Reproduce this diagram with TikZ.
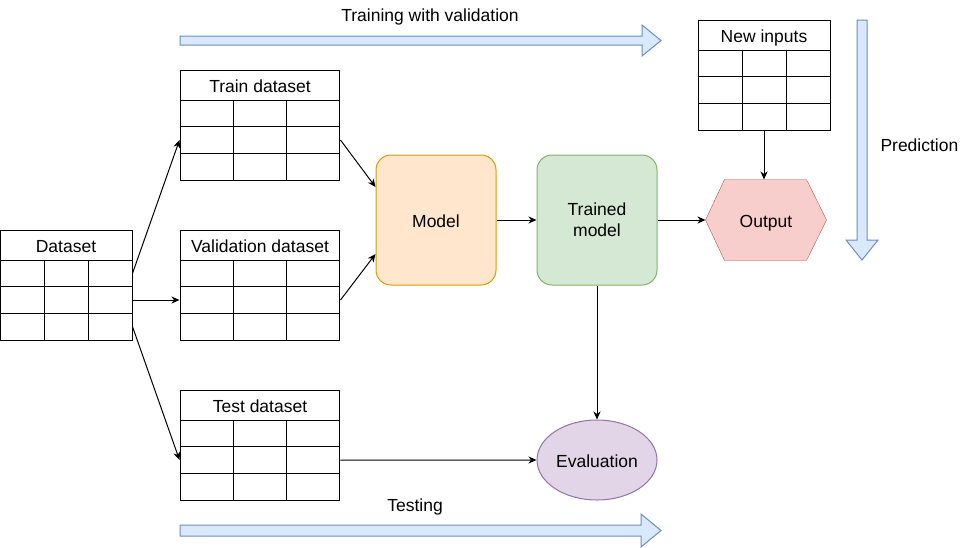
\documentclass[tikz,border=0pt]{standalone}
\usepackage{fontspec}
\setmainfont{Liberation Sans}
\usepackage{tikz}
\usetikzlibrary{shapes.geometric,arrows.meta,backgrounds,positioning}

\definecolor{arrowfill}{HTML}{DAE8FC}
\definecolor{arrowline}{HTML}{6C8EBF}
\definecolor{modelfill}{HTML}{FFE6CC}
\definecolor{modelline}{HTML}{D79B00}
\definecolor{trainfill}{HTML}{D5E8D4}
\definecolor{trainline}{HTML}{82B366}
\definecolor{outfill}{HTML}{F8CECC}
\definecolor{outline}{HTML}{B85450}
\definecolor{evalfill}{HTML}{E1D5E7}
\definecolor{evalline}{HTML}{9673A6}

\begin{document}
\begin{tikzpicture}[x=1pt, y=-1pt, line width=1pt,
    font=\fontsize{17.5}{21}\selectfont,
    every node/.style={text height=15.5pt, text depth=0pt},
    thead/.style={rectangle,draw,minimum height=30pt,inner sep=0pt},
    tcell/.style={rectangle,draw,minimum height=26.67pt,inner sep=0pt},
    block/.style={rectangle,rounded corners=15pt,minimum width=120pt,minimum height=130pt,inner sep=0pt,align=center},
    conn/.style={-{Stealth[length=8pt,width=7pt,inset=2.5pt]}},
    bigarrow/.style={fill=arrowfill,draw=arrowline},
    lbl/.style={inner sep=0pt}]
    \useasboundingbox (0,0) rectangle (961,547);

    % tables
    \foreach \n/\x/\y/\w/\t in {ds/0/230/44/Dataset,tr/180/70/53.33/Train dataset,va/180/230/53.33/Validation dataset,te/180/390/53.33/Test dataset,ni/698/20/44/New inputs}
       {\node [thead, minimum width={3*\w*1pt}] (\n) at ({\x+1.5*\w},{\y+15}) {\t};
        \foreach \r in {1,2,3}
            \foreach \c in {1,2,3}
                \node [tcell, minimum width={\w*1pt}] (\n-\r-\c) at ({\x+(\c-0.5)*\w},{\y+30+(\r-0.5)*26.67}) {};}

    \node [block, fill=modelfill, draw=modelline] (model) at (436,220) {Model};
    \node [block, fill=trainfill, draw=trainline, text height={}, text depth={}] (trained) at (597,220) {Trained\\model};
    \node [rectangle, minimum width=120pt, minimum height=80pt, inner sep=0pt] (out) at (766,220) {Output};
    \begin{scope}[on background layer]
        \draw [fill=outfill, draw=outline] (out.west) -- ([xshift=19pt]out.north west) -- ([xshift=-20pt]out.north east)
            -- (out.east) -- ([xshift=-20pt]out.south east) -- ([xshift=19pt]out.south west) -- cycle;
    \end{scope}
    \node [ellipse, fill=evalfill, draw=evalline, minimum width=120pt, minimum height=80pt, inner sep=0pt] (eval) at (597,460) {Evaluation};

    % phases
    \draw [bigarrow] (180,36) -- (642,36) -- (642,25) -- (661,40.5) -- (642,56) -- (642,45) -- (180,45) -- cycle;
    \draw [bigarrow] (180,525) -- (641,525) -- (641,514) -- (661,530.5) -- (641,547) -- (641,536) -- (180,536) -- cycle;
    \draw [bigarrow] (857,20) -- (867,20) -- (867,240) -- (878,240) -- (862,260) -- (846,240) -- (857,240) -- cycle;
    \node [lbl] (trainlbl) at (430,14) {Training with validation};
    \node [lbl] (testlbl) at (415,504) {Testing};
    \node [lbl, anchor=west] (predlbl) at (880,144) {Prediction};

    \draw [conn] (ds-1-3.east) -- (tr-2-1.west);
    \draw [conn] (ds-2-3.east) -- (va-2-1.west);
    \draw [conn] (ds-3-3.east) -- (te-2-1.west);
    \draw [conn] (tr-2-3.east) -- ([yshift=33pt]model.west);
    \draw [conn] (va-2-3.east) -- ([yshift=-34pt]model.west);
    \draw [conn] (model) -- (trained);
    \draw [conn] (trained) -- (out);
    \draw [conn] (ni-3-2.south) -- (ni-3-2.south |- out.north);
    \draw [conn] (trained) -- (eval);
    \draw [conn] (te-2-3.east) -- (eval.west);
\end{tikzpicture}
\end{document}
